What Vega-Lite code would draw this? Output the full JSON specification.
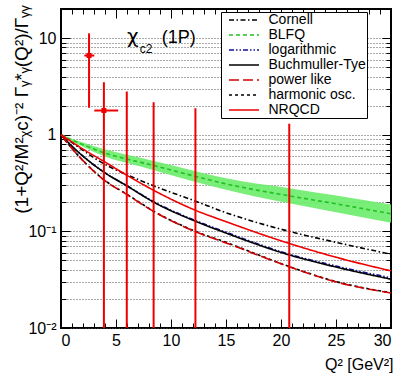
{
  "$schema": "https://vega.github.io/schema/vega-lite/v6.json",
  "width": 330,
  "height": 319,
  "autosize": {"type": "none"},
  "padding": {"left": 61, "top": 9, "right": 11, "bottom": 45},
  "background": "white",
  "config": {
    "font": "Liberation Sans",
    "view": {"stroke": "black", "strokeWidth": 2},
    "axis": {
      "domain": false,
      "grid": false,
      "labelFont": "Liberation Sans",
      "titleFont": "Liberation Sans",
      "labelColor": "black",
      "titleColor": "black",
      "tickColor": "black",
      "tickWidth": 1,
      "titleFontWeight": "normal",
      "labelFontSize": 16
    }
  },
  "datasets": {
    "curves": [
      {"model": "Cornell", "x": 0, "y": 1}, {"model": "Cornell", "x": 1, "y": 0.83}, {"model": "Cornell", "x": 2, "y": 0.69}, {"model": "Cornell", "x": 3.9, "y": 0.5}, {"model": "Cornell", "x": 6, "y": 0.385}, {"model": "Cornell", "x": 8.45, "y": 0.295}, {"model": "Cornell", "x": 12.24, "y": 0.205}, {"model": "Cornell", "x": 15, "y": 0.156}, {"model": "Cornell", "x": 20.75, "y": 0.1}, {"model": "Cornell", "x": 25, "y": 0.077}, {"model": "Cornell", "x": 30, "y": 0.058},
      {"model": "BLFQ", "x": 0, "y": 1}, {"model": "BLFQ", "x": 1, "y": 0.88}, {"model": "BLFQ", "x": 2, "y": 0.79}, {"model": "BLFQ", "x": 3.9, "y": 0.65}, {"model": "BLFQ", "x": 6, "y": 0.56}, {"model": "BLFQ", "x": 8.45, "y": 0.48}, {"model": "BLFQ", "x": 12.24, "y": 0.37}, {"model": "BLFQ", "x": 15, "y": 0.31}, {"model": "BLFQ", "x": 20.75, "y": 0.233}, {"model": "BLFQ", "x": 25, "y": 0.193}, {"model": "BLFQ", "x": 30, "y": 0.152},
      {"model": "logarithmic", "x": 0, "y": 1}, {"model": "logarithmic", "x": 1, "y": 0.76}, {"model": "logarithmic", "x": 2, "y": 0.6}, {"model": "logarithmic", "x": 3.9, "y": 0.41}, {"model": "logarithmic", "x": 6, "y": 0.297}, {"model": "logarithmic", "x": 8.45, "y": 0.202}, {"model": "logarithmic", "x": 12.24, "y": 0.129}, {"model": "logarithmic", "x": 15, "y": 0.098}, {"model": "logarithmic", "x": 20.75, "y": 0.058}, {"model": "logarithmic", "x": 25, "y": 0.0438}, {"model": "logarithmic", "x": 30, "y": 0.033},
      {"model": "Buchmuller-Tye", "x": 0, "y": 1}, {"model": "Buchmuller-Tye", "x": 1, "y": 0.76}, {"model": "Buchmuller-Tye", "x": 2, "y": 0.6}, {"model": "Buchmuller-Tye", "x": 3.9, "y": 0.41}, {"model": "Buchmuller-Tye", "x": 6, "y": 0.295}, {"model": "Buchmuller-Tye", "x": 8.45, "y": 0.2}, {"model": "Buchmuller-Tye", "x": 12.24, "y": 0.127}, {"model": "Buchmuller-Tye", "x": 15, "y": 0.096}, {"model": "Buchmuller-Tye", "x": 20.75, "y": 0.057}, {"model": "Buchmuller-Tye", "x": 25, "y": 0.0427}, {"model": "Buchmuller-Tye", "x": 30, "y": 0.032},
      {"model": "harmonic osc.", "x": 0, "y": 1}, {"model": "harmonic osc.", "x": 1, "y": 0.72}, {"model": "harmonic osc.", "x": 2, "y": 0.54}, {"model": "harmonic osc.", "x": 3.9, "y": 0.342}, {"model": "harmonic osc.", "x": 6, "y": 0.242}, {"model": "harmonic osc.", "x": 8.45, "y": 0.161}, {"model": "harmonic osc.", "x": 12.24, "y": 0.1}, {"model": "harmonic osc.", "x": 15, "y": 0.077}, {"model": "harmonic osc.", "x": 20.75, "y": 0.0433}, {"model": "harmonic osc.", "x": 25, "y": 0.0302}, {"model": "harmonic osc.", "x": 30, "y": 0.0232},
      {"model": "power like", "x": 0, "y": 1}, {"model": "power like", "x": 1, "y": 0.72}, {"model": "power like", "x": 2, "y": 0.54}, {"model": "power like", "x": 3.9, "y": 0.34}, {"model": "power like", "x": 6, "y": 0.24}, {"model": "power like", "x": 8.45, "y": 0.16}, {"model": "power like", "x": 12.24, "y": 0.099}, {"model": "power like", "x": 15, "y": 0.076}, {"model": "power like", "x": 20.75, "y": 0.043}, {"model": "power like", "x": 25, "y": 0.03}, {"model": "power like", "x": 30, "y": 0.023},
      {"model": "NRQCD", "x": 0, "y": 1}, {"model": "NRQCD", "x": 1, "y": 0.84}, {"model": "NRQCD", "x": 2, "y": 0.71}, {"model": "NRQCD", "x": 3.9, "y": 0.53}, {"model": "NRQCD", "x": 6, "y": 0.38}, {"model": "NRQCD", "x": 8.45, "y": 0.265}, {"model": "NRQCD", "x": 12.24, "y": 0.165}, {"model": "NRQCD", "x": 15, "y": 0.126}, {"model": "NRQCD", "x": 20.75, "y": 0.075}, {"model": "NRQCD", "x": 25, "y": 0.054}, {"model": "NRQCD", "x": 30, "y": 0.039}
    ],
    "band": [
      {"x": 0, "lo": 0.99, "hi": 1.01}, {"x": 1, "lo": 0.85, "hi": 0.91}, {"x": 2, "lo": 0.75, "hi": 0.83}, {"x": 3.9, "lo": 0.6, "hi": 0.71}, {"x": 6, "lo": 0.51, "hi": 0.62}, {"x": 8.45, "lo": 0.43, "hi": 0.535}, {"x": 12.24, "lo": 0.325, "hi": 0.42}, {"x": 15, "lo": 0.27, "hi": 0.355}, {"x": 20.75, "lo": 0.195, "hi": 0.28}, {"x": 25, "lo": 0.158, "hi": 0.235}, {"x": 30, "lo": 0.123, "hi": 0.19}
    ],
    "errors": [
      {"x": 2.55, "y": 6.6, "ylo": 1.9, "yhi": 11.2, "xlo": 2.12, "xhi": 3.03},
      {"x": 3.9, "y": 1.78, "ylo": 0.005, "yhi": 3.5, "xlo": 3.03, "xhi": 5.2},
      {"x": 5.98, "y": null, "ylo": 0.005, "yhi": 2.8, "xlo": null, "xhi": null},
      {"x": 8.42, "y": null, "ylo": 0.005, "yhi": 2.17, "xlo": null, "xhi": null},
      {"x": 12.22, "y": null, "ylo": 0.005, "yhi": 1.88, "xlo": null, "xhi": null},
      {"x": 20.75, "y": null, "ylo": 0.005, "yhi": 1.3, "xlo": null, "xhi": null}
    ],
    "labels": [
      {"part": "chi", "t": "χ", "x": 6.0, "y": 8.96},
      {"part": "sub", "t": "c2", "x": 7.15, "y": 7.06},
      {"part": "state", "t": "(1P)", "x": 9.15, "y": 8.9}
    ]
  },
  "resolve": {"axis": {"x": "independent", "y": "independent"}},
  "layer": [
    {
      "data": {"name": "band"},
      "mark": {"type": "area", "color": "#6aec6a", "opacity": 0.9, "interpolate": "monotone"},
      "encoding": {
        "x": {"field": "x", "type": "quantitative", "scale": {"domain": [0, 30], "nice": false},
          "axis": {"orient": "bottom", "values": [1,2,3,4,6,7,8,9,11,12,13,14,16,17,18,19,21,22,23,24,26,27,28,29], "tickSize": -5, "labels": false, "title": null}},
        "y": {"field": "lo", "type": "quantitative", "scale": {"type": "log", "domain": [0.01, 20], "nice": false},
          "axis": {"orient": "left", "values": [0.01,0.02,0.03,0.04,0.05,0.06,0.07,0.08,0.09,0.1,0.2,0.3,0.4,0.5,0.6,0.7,0.8,0.9,1,2,3,4,5,6,7,8,9,10], "tickSize": -5, "labels": false, "title": null, "grid": true, "gridDash": [1, 2], "gridColor": "#555555", "gridWidth": 1}},
        "y2": {"field": "hi"}
      }
    },
    {
      "data": {"name": "curves"},
      "mark": {"type": "line", "strokeWidth": 1.6, "interpolate": "monotone"},
      "encoding": {
        "x": {"field": "x", "type": "quantitative", "scale": {"domain": [0, 30], "nice": false},
          "axis": {"orient": "bottom", "values": [0, 5, 10, 15, 20, 25, 30], "tickSize": -9, "labelPadding": 13, "title": "Q² [GeV²]", "titleFontSize": 16, "titleAnchor": "end", "titleAlign": "right", "titleX": 332, "titleY": 41, "titleBaseline": "alphabetic"}},
        "y": {"field": "y", "type": "quantitative", "scale": {"type": "log", "domain": [0.01, 20], "nice": false},
          "axis": {"orient": "left", "values": [0.01, 0.1, 1, 10], "tickSize": -9, "labelPadding": 14, "labelExpr": "datum.value == 10 ? '10' : datum.value == 1 ? '1' : datum.value == 0.1 ? '10⁻¹' : '10⁻²'", "title": "(1+Q²/M²ᵪc)⁻² Γᵧ*ᵧ(Q²)/Γᵧᵧ", "titleFontSize": 19, "titleAngle": -90, "titleAlign": "right", "titleBaseline": "middle", "titleX": -40, "titleY": -4}},
        "color": {"field": "model", "type": "nominal",
          "scale": {"domain": ["Cornell", "BLFQ", "logarithmic", "Buchmuller-Tye", "power like", "harmonic osc.", "NRQCD"], "range": ["#000000", "#22c022", "#1010a0", "#000000", "#d00000", "#000000", "#ee0000"]},
          "legend": {"orient": "none", "legendX": 160, "legendY": 3, "title": null, "symbolType": "M0,0H7.5", "symbolSize": 64, "symbolStrokeWidth": 1.5, "symbolFillColor": "transparent", "labelFontSize": 14, "labelFont": "Liberation Sans", "labelColor": "black", "labelOffset": 32.5, "rowPadding": 1, "padding": 1, "strokeColor": "black", "fillColor": "white", "labelLimit": 300, "labelExpr": "datum.label + '      '"}},
        "strokeDash": {"field": "model", "type": "nominal",
          "scale": {"domain": ["Cornell", "BLFQ", "logarithmic", "Buchmuller-Tye", "power like", "harmonic osc.", "NRQCD"], "range": [[5, 2.5, 1.5, 2.5], [4, 3], [5, 2, 1.5, 2, 1.5, 2], [1, 0], [10, 4], [3, 3], [1, 0]]},
          "legend": {"orient": "none", "legendX": 160, "legendY": 3, "title": null, "symbolType": "M0,0H7.5", "symbolSize": 64, "symbolStrokeWidth": 1.5, "symbolFillColor": "transparent", "labelFontSize": 14, "labelFont": "Liberation Sans", "labelColor": "black", "labelOffset": 32.5, "rowPadding": 1, "padding": 1, "strokeColor": "black", "fillColor": "white", "labelLimit": 300, "labelExpr": "datum.label + '      '"}}
      }
    },
    {
      "data": {"name": "errors"},
      "mark": {"type": "rule", "color": "#ee0000", "strokeWidth": 2, "clip": true},
      "encoding": {
        "x": {"field": "x", "type": "quantitative", "scale": {"domain": [0, 30], "nice": false},
          "axis": {"orient": "top", "values": [1,2,3,4,6,7,8,9,11,12,13,14,16,17,18,19,21,22,23,24,26,27,28,29], "tickSize": -5, "labels": false, "title": null}},
        "y": {"field": "ylo", "type": "quantitative", "scale": {"type": "log", "domain": [0.01, 20], "nice": false},
          "axis": {"orient": "right", "values": [0.01,0.02,0.03,0.04,0.05,0.06,0.07,0.08,0.09,0.1,0.2,0.3,0.4,0.5,0.6,0.7,0.8,0.9,1,2,3,4,5,6,7,8,9,10], "tickSize": -5, "labels": false, "title": null}},
        "y2": {"field": "yhi"}
      }
    },
    {
      "data": {"name": "errors"},
      "transform": [{"filter": "isValid(datum.xlo)"}],
      "mark": {"type": "rule", "color": "#ee0000", "strokeWidth": 2, "clip": true},
      "encoding": {
        "x": {"field": "xlo", "type": "quantitative", "scale": {"domain": [0, 30], "nice": false},
          "axis": {"orient": "top", "values": [0, 5, 10, 15, 20, 25, 30], "tickSize": -9, "labels": false, "title": null}},
        "x2": {"field": "xhi"},
        "y": {"field": "y", "type": "quantitative", "scale": {"type": "log", "domain": [0.01, 20], "nice": false},
          "axis": {"orient": "right", "values": [0.01, 0.1, 1, 10], "tickSize": -9, "labels": false, "title": null}}
      }
    },
    {
      "data": {"name": "errors"},
      "transform": [{"filter": "isValid(datum.y)"}],
      "mark": {"type": "point", "shape": "square", "filled": true, "color": "#ee0000", "size": 25, "opacity": 1},
      "encoding": {
        "x": {"field": "x", "type": "quantitative", "scale": {"domain": [0, 30], "nice": false}, "axis": null},
        "y": {"field": "y", "type": "quantitative", "scale": {"type": "log", "domain": [0.01, 20], "nice": false}, "axis": null}
      }
    },
    {
      "data": {"name": "labels"},
      "transform": [{"filter": "datum.part == 'chi'"}],
      "mark": {"type": "text", "align": "left", "baseline": "alphabetic", "fontSize": 20, "font": "DejaVu Sans", "color": "black"},
      "encoding": {
        "x": {"field": "x", "type": "quantitative", "scale": {"domain": [0, 30], "nice": false}, "axis": null},
        "y": {"field": "y", "type": "quantitative", "scale": {"type": "log", "domain": [0.01, 20], "nice": false}, "axis": null},
        "text": {"field": "t"}
      }
    },
    {
      "data": {"name": "labels"},
      "transform": [{"filter": "datum.part == 'sub'"}],
      "mark": {"type": "text", "align": "left", "baseline": "alphabetic", "fontSize": 12, "font": "Liberation Sans", "color": "black"},
      "encoding": {
        "x": {"field": "x", "type": "quantitative", "scale": {"domain": [0, 30], "nice": false}, "axis": null},
        "y": {"field": "y", "type": "quantitative", "scale": {"type": "log", "domain": [0.01, 20], "nice": false}, "axis": null},
        "text": {"field": "t"}
      }
    },
    {
      "data": {"name": "labels"},
      "transform": [{"filter": "datum.part == 'state'"}],
      "mark": {"type": "text", "align": "left", "baseline": "alphabetic", "fontSize": 18, "font": "Liberation Sans", "color": "black"},
      "encoding": {
        "x": {"field": "x", "type": "quantitative", "scale": {"domain": [0, 30], "nice": false}, "axis": null},
        "y": {"field": "y", "type": "quantitative", "scale": {"type": "log", "domain": [0.01, 20], "nice": false}, "axis": null},
        "text": {"field": "t"}
      }
    }
  ]
}
